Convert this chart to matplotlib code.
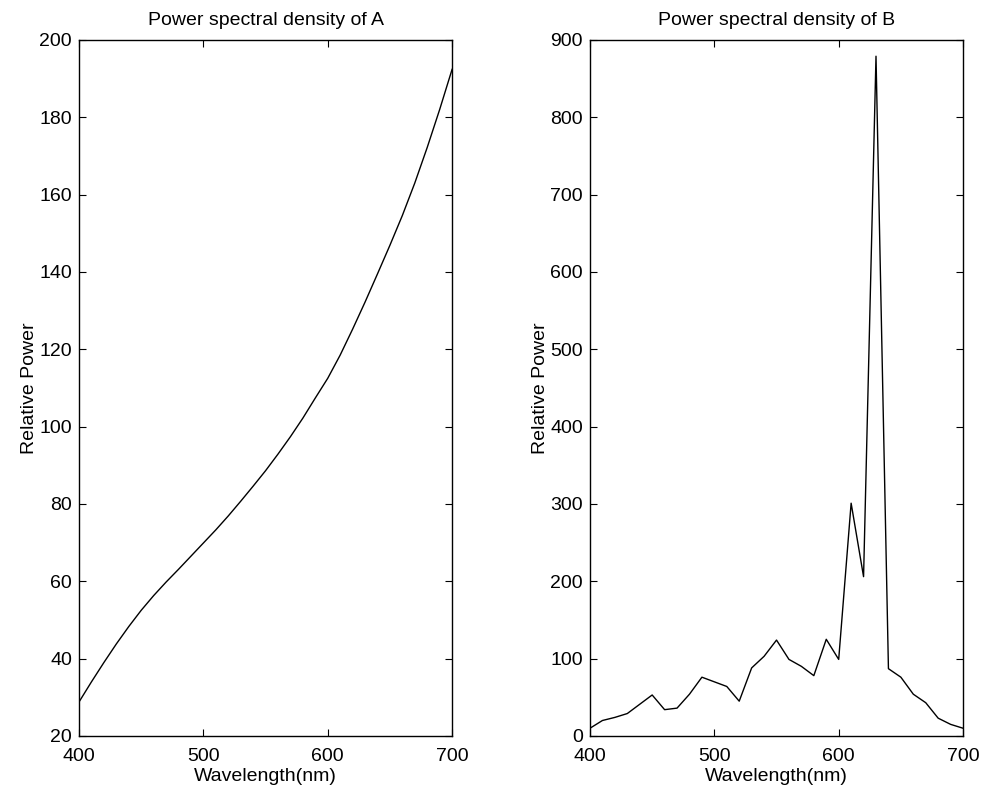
import matplotlib
matplotlib.use("Agg")
import matplotlib.pyplot as plt

plt.rcParams['font.family'] = ['Liberation Sans', 'DejaVu Sans']

wl_a = [400, 410, 420, 430, 440, 450, 460, 470, 480, 490, 500,
        510, 520, 530, 540, 550, 560, 570, 580, 590, 600,
        610, 620, 630, 640, 650, 660, 670, 680, 690, 700]
power_a = [28.8, 34.0, 39.0, 43.8, 48.3, 52.5, 56.3, 59.8, 63.1, 66.5, 69.9,
           73.3, 76.9, 80.7, 84.6, 88.6, 92.9, 97.4, 102.2, 107.4, 112.5,
           118.5, 125.2, 132.2, 139.5, 146.9, 154.6, 163.0, 172.2, 182.0, 192.4]

wl_b = list(range(400, 701, 10))
power_b = [10, 20, 24, 29, 41, 53, 34, 36, 54, 76, 70,
           64, 45, 88, 103, 124, 99, 90, 78, 125, 99,
           301, 206, 879, 87, 76, 54, 43, 23, 15, 10]

titles = ["Power spectral density of A", "Power spectral density of B"]
xlabel = "Wavelength(nm)"
ylabel = "Relative Power"
xticks = [400, 500, 600, 700]
yticks_a = list(range(20, 201, 20))
yticks_b = list(range(0, 901, 100))

fig = plt.figure(figsize=(9.83, 7.90), dpi=100)
ax1 = fig.add_axes([0.0804, 0.0684, 0.3795, 0.881])
ax2 = fig.add_axes([0.6002, 0.0684, 0.3795, 0.881])

for ax, x, y, t, yt in [(ax1, wl_a, power_a, titles[0], yticks_a),
                        (ax2, wl_b, power_b, titles[1], yticks_b)]:
    ax.plot(x, y, color='black', linewidth=1.0)
    ax.set_xlim(400, 700)
    ax.set_ylim(yt[0], yt[-1])
    ax.set_xticks(xticks)
    ax.set_yticks(yt)
    ax.set_title(t, fontsize=14, pad=11)
    ax.set_xlabel(xlabel, fontsize=14, labelpad=2)
    ax.set_ylabel(ylabel, fontsize=14, labelpad=1)
    ax.tick_params(axis='x', direction='in', top=True, length=5,
                   width=0.8, labelsize=14, pad=9)
    ax.tick_params(axis='y', direction='in', right=True, length=5,
                   width=0.8, labelsize=14, pad=5)
    for s in ax.spines.values():
        s.set_linewidth(1.0)

fig.savefig("out.png", dpi=100)
